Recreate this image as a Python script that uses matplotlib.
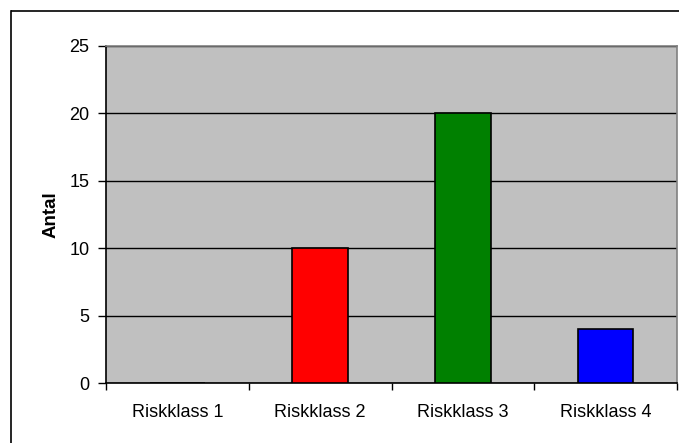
import matplotlib
matplotlib.use("Agg")
import matplotlib.pyplot as plt
from matplotlib.lines import Line2D

categories = ["Riskklass 1", "Riskklass 2", "Riskklass 3", "Riskklass 4"]
values = [0, 10, 20, 4]
bar_colors = ["#FF0000", "#FF0000", "#008000", "#0000FF"]
y_ticks = [0, 5, 10, 15, 20, 25]

plt.rcParams["font.family"] = ["Liberation Sans", "DejaVu Sans"]

W, H = 681, 443
fig = plt.figure(figsize=(W / 100, H / 100), dpi=100)
fig.patch.set_facecolor("white")

# outer chart frame: only the top and left edges fall inside the canvas
fx, fy = 11 / W, 1 - 11 / H
fig.lines.append(Line2D([fx, 1 - 2 / W], [fy, fy], transform=fig.transFigure,
                        color="black", linewidth=1.2, solid_capstyle="butt"))
fig.lines.append(Line2D([fx, fx], [0.0, fy], transform=fig.transFigure,
                        color="black", linewidth=1.2))

ax = fig.add_axes([106 / W, 1 - 383 / H, (677 - 106) / W, (383 - 46) / H])
ax.set_facecolor("#C0C0C0")

x = list(range(len(categories)))
ax.bar(x, values, width=0.39, color=bar_colors, edgecolor="black",
       linewidth=1.2, zorder=3)

ax.set_xlim(-0.5, len(categories) - 0.5)
ax.set_ylim(0, 25)
ax.set_yticks(y_ticks)
ax.yaxis.grid(True, color="black", linewidth=1.0, zorder=1)
ax.set_axisbelow(True)

ax.set_xticks(x)
ax.set_xticklabels(categories, fontsize=13)
ax.set_xticks([i + 0.5 for i in range(-1, len(categories))], minor=True)
ax.tick_params(axis="x", which="major", length=0, pad=15)
ax.tick_params(axis="x", which="minor", length=5, width=1, direction="out")
ax.tick_params(axis="y", length=6, width=1, direction="out", labelsize=13, pad=6)

ax.set_ylabel("Antal", fontsize=13.5, fontweight="bold", labelpad=7)

for side in ["left", "bottom"]:
    ax.spines[side].set_color("black")
    ax.spines[side].set_linewidth(1.2)
for side in ["top", "right"]:
    ax.spines[side].set_color("#808080")
    ax.spines[side].set_linewidth(1.2)

fig.savefig("out.png", dpi=100)
